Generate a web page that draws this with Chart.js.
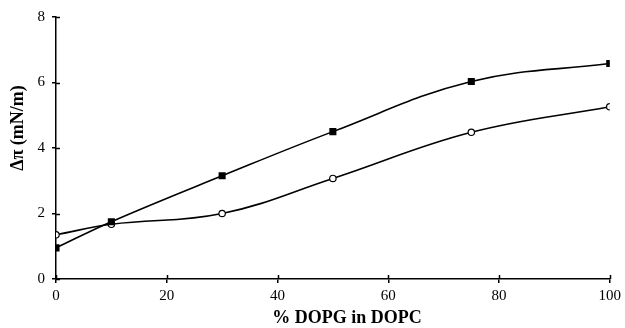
<!DOCTYPE html>
<html>
<head>
<meta charset="utf-8">
<script src="https://cdn.jsdelivr.net/npm/chart.js@4/dist/chart.umd.min.js"></script>
<style>
  html, body { margin: 0; padding: 0; background: #ffffff; }
  #wrap { width: 625px; height: 328px; }
</style>
</head>
<body>
<div id="wrap"><canvas id="grafico" width="625" height="328"></canvas></div>
<script>
// Datos
const porcentajeDOPG = [0, 10, 30, 50, 75, 100];
const serieCuadrados = [0.95, 1.75, 3.15, 4.5, 6.03, 6.58];
const serieCirculos = [1.35, 1.67, 2.0, 3.07, 4.48, 5.26];
const ticksX = [0, 20, 40, 60, 80, 100];
const ticksY = [0, 2, 4, 6, 8];

const fuente = "'Liberation Serif', 'DejaVu Serif', serif";

// Marcas que cruzan el eje (parte interior) y títulos de los ejes
const ejesPlugin = {
  id: "ejes",
  afterDraw(chart) {
    const { ctx, scales, chartArea } = chart;
    ctx.save();
    ctx.strokeStyle = "#000";
    ctx.lineWidth = 1.5;
    ctx.beginPath();
    ticksY.forEach((v) => {
      const y = Math.round(scales.y.getPixelForValue(v)) + 0.5;
      ctx.moveTo(chartArea.left, y);
      ctx.lineTo(chartArea.left + 4, y);
    });
    ticksX.forEach((v) => {
      const x = Math.round(scales.x.getPixelForValue(v)) + 0.5;
      ctx.moveTo(x, chartArea.bottom);
      ctx.lineTo(x, chartArea.bottom - 4);
    });
    ctx.stroke();

    ctx.fillStyle = "#000";
    ctx.font = "bold 18px " + fuente;
    ctx.textAlign = "center";
    ctx.textBaseline = "middle";
    ctx.fillText("% DOPG in DOPC", 347, 318);

    ctx.translate(18, 128);
    ctx.rotate(-Math.PI / 2);
    ctx.fillText("Δπ (mN/m)", 0, 0);
    ctx.restore();
  },
};

new Chart(document.getElementById("grafico"), {
  type: "line",
  data: {
    labels: porcentajeDOPG,
    datasets: [
      {
        data: porcentajeDOPG.map((x, i) => ({ x, y: serieCuadrados[i] })),
        borderColor: "#000",
        borderWidth: 1.6,
        pointStyle: "rect",
        pointRadius: 5,
        pointBackgroundColor: "#000",
        pointBorderColor: "#000",
        pointBorderWidth: 0,
        tension: 0.4,
      },
      {
        data: porcentajeDOPG.map((x, i) => ({ x, y: serieCirculos[i] })),
        borderColor: "#000",
        borderWidth: 1.6,
        pointStyle: "circle",
        pointRadius: 3.2,
        pointBackgroundColor: "#fff",
        pointBorderColor: "#000",
        pointBorderWidth: 1.2,
        tension: 0.4,
      },
    ],
  },
  options: {
    responsive: false,
    animation: false,
    layout: { padding: { top: 17, right: 15, left: 0, bottom: 0 } },
    plugins: { legend: { display: false }, tooltip: { enabled: false } },
    scales: {
      x: {
        type: "linear",
        min: 0,
        max: 100,
        afterFit: (s) => { s.height = 49; },
        afterBuildTicks: (s) => { s.ticks = ticksX.map((v) => ({ value: v })); },
        grid: { drawOnChartArea: false, tickLength: 4, color: "#000", lineWidth: 1.5 },
        border: { color: "#000", width: 1.5 },
        ticks: { color: "#000", font: { family: fuente, size: 15 }, padding: 4, maxRotation: 0 },
      },
      y: {
        min: 0,
        max: 8,
        afterFit: (s) => { s.width = 56; },
        afterBuildTicks: (s) => { s.ticks = ticksY.map((v) => ({ value: v })); },
        grid: { drawOnChartArea: false, tickLength: 4, color: "#000", lineWidth: 1.5 },
        border: { color: "#000", width: 1.5 },
        ticks: { color: "#000", font: { family: fuente, size: 15 }, padding: 7 },
      },
    },
  },
  plugins: [ejesPlugin],
});
</script>
</body>
</html>
